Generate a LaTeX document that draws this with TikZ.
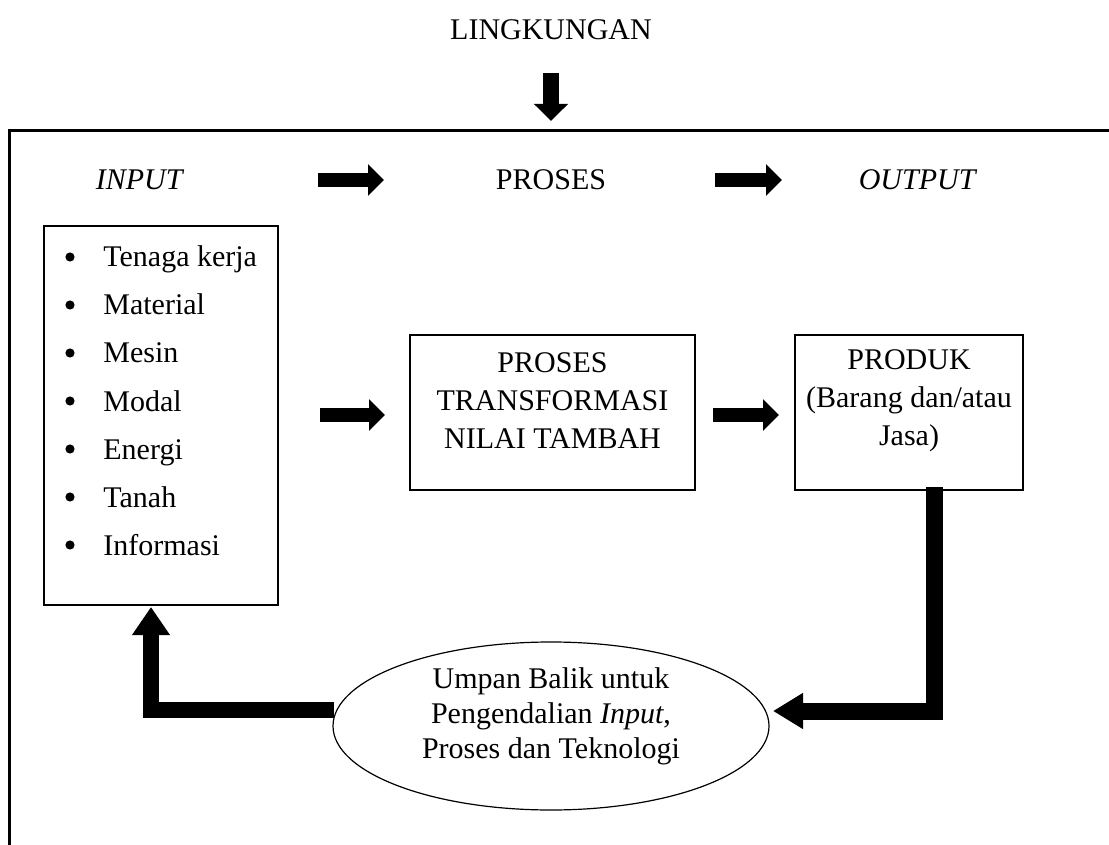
\documentclass[tikz,border=0pt]{standalone}
\usepackage{fontspec}
\setmainfont{Liberation Serif}
\usetikzlibrary{arrows.meta,shapes.geometric}
\begin{document}
\begin{tikzpicture}[x=0.5pt,y=-0.5pt]
		\tikzstyle{kotak}=[draw,line width=0.7pt,inner sep=0pt]
		\tikzstyle{teks}=[font=\fontsize{15}{19}\selectfont,align=center,inner sep=0pt]
		\tikzstyle{butir}=[font=\fontsize{15}{19}\selectfont,anchor=base west,inner sep=0pt]
		\tikzstyle{titik}=[circle,fill,inner sep=0pt,minimum size=4.6pt]
		\tikzstyle{panah}=[line width=7pt,-{Triangle[length=8pt,width=15.5pt]}]
		\tikzstyle{balik}=[line width=8.5pt,line join=miter,-{Triangle[length=15pt,width=17pt]}]
		\def\JarakButir{48}
		\useasboundingbox (0,0) rectangle (1109,845);
		% bingkai luar
		\draw[line width=1.5pt] (9,900) -- (9,131) -- (1150,131);
		\node[teks] (L) at (551,30) {LINGKUNGAN};
		\coordinate (La) at (551,73);
		\coordinate (Lb) at (551,121);
		\draw[panah,line width=8pt,-{Triangle[length=8.5pt,width=16.5pt]}] (La)--(Lb);
		% judul
		\node[teks] (I) at (140,180) {\textit{INPUT}};
		\node[teks] (P) at (551,180) {PROSES};
		\node[teks] (O) at (918,180) {\textit{OUTPUT}};
		\coordinate (IPa) at (318,180);
		\coordinate (IPb) at (384,180);
		\coordinate (POa) at (715,180);
		\coordinate (POb) at (782,180);
		\draw[panah] (IPa)--(IPb);
		\draw[panah] (POa)--(POb);
		% kotak input
		\node[kotak,minimum width=117pt,minimum height=189.5pt] (Ri) at (161,415.5) {};
		\foreach \k/\t in {0/Tenaga kerja,1/Material,2/Mesin,3/Modal,4/Energi,5/Tanah,6/Informasi}{
			\node[titik] (b\k) at (70,{257+\k*\JarakButir}) {};
			\node[butir] (t\k) at (103,{267+\k*\JarakButir}) {\t};
		}
		% proses dan produk
		\node[kotak,minimum width=142.5pt,minimum height=77.5pt] (Rp) at (552.5,412.5) {};
		\node[teks] (Tp) at (552.5,401) {PROSES\\TRANSFORMASI\\NILAI TAMBAH};
		\node[kotak,minimum width=114pt,minimum height=77.5pt] (Ro) at (909,412.5) {};
		\node[teks] (To) at (909,401) {PRODUK\\(Barang dan/atau\\Jasa)};
		\coordinate (RiRpa) at (320,415);
		\coordinate (RiRpb) at (385,415);
		\coordinate (RpRoa) at (713,415);
		\coordinate (RpRob) at (779,415);
		\draw[panah] (RiRpa)--(RiRpb);
		\draw[panah] (RpRoa)--(RpRob);
		% umpan balik
		\node[draw,ellipse,line width=0.6pt,minimum width=218pt,minimum height=84pt,inner sep=0pt] (U) at (551,726) {};
		\node[teks,font=\fontsize{15}{17.5}\selectfont] (Tu) at (551,716) {Umpan Balik untuk\\Pengendalian \textit{Input},\\Proses dan Teknologi};
		\coordinate (Ka) at (934,487);
		\coordinate (Kb) at (934,711);
		\coordinate (Kc) at (773,711);
		\draw[balik] (Ka)--(Kb)--(Kc);
		\coordinate (Ja) at (334,710);
		\coordinate (Jb) at (151,710);
		\coordinate (Jc) at (151,607);
		\draw[balik,line width=8pt,-{Triangle[length=14pt,width=18pt]}] (Ja)--(Jb)--(Jc);
	\end{tikzpicture}
\end{document}
